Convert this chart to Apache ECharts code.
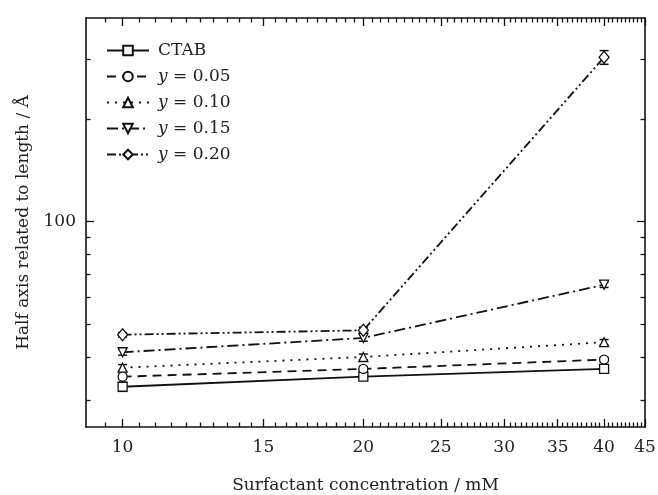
<!DOCTYPE html>
<html><head><meta charset="utf-8">
<script src="https://cdn.jsdelivr.net/npm/echarts@6/dist/echarts.min.js"></script>
<style>html,body{margin:0;padding:0;background:#fff}#c{width:658px;height:495px}</style>
</head><body><div id="c"></div>
<script>
const concentrations = [10, 20, 40];
const seriesNames = ['CTAB', 'y = 0.05', 'y = 0.10', 'y = 0.15', 'y = 0.20'];
const valCTAB = [32.8, 35.1, 37.0];
const val005 = [35.1, 37.0, 39.4];
const val010 = [37.3, 40.1, 44.3];
const val015 = [41.4, 45.6, 65.3];
const val020 = [46.6, 48.0, 303];
const errCTAB = [1.0, 0.6, 0.5];
const err005 = [0.6, 0.6, 0.6];
const err010 = [0.8, 0.8, 0.8];
const err015 = [0.8, 1.0, 1.2];
const err020 = [0.7, 1.0, 14];
const xMajorTicks = [10, 15, 20, 25, 30, 35, 40, 45];
const xMinorTicks = [9.5,10.5,11,11.5,12,12.5,13,13.5,14,14.5,15.5,16,16.5,17,17.5,18,18.5,19,19.5,20.5,21,21.5,22,22.5,23,23.5,24,24.5,25.5,26,26.5,27,27.5,28,28.5,29,29.5,30.5,31,31.5,32,32.5,33,33.5,34,34.5,35.5,36,36.5,37,37.5,38,38.5,39,39.5,40.5,41,41.5,42,42.5,43,43.5,44,44.5];
const yMajorTicks = [100];
const yMinorTicks = [30, 40, 50, 60, 70, 80, 90, 200, 300];
const xRange = [9, 45];
const yRange = [25, 395];

const FONT = 'DejaVu Serif';
const FS = 17;
const values = [valCTAB, val005, val010, val015, val020];
const errors = [errCTAB, err005, err010, err015, err020];
const symbols = ['rect', 'circle', 'triangle', 'triangle', 'diamond'];
const rotations = [0, 0, 0, 180, 0];
const dashes = ['solid', [9, 6], [2, 6], [11, 4, 2, 4], [9, 3, 2, 3, 2, 3]];

const chart = echarts.init(document.getElementById('c'), null, {renderer: 'canvas'});

function xAx(pos, ticks, len, showLabel, showLine) {
  return {
    type: 'log', min: xRange[0], max: xRange[1], position: pos,
    axisLine: {show: showLine, onZero: false, lineStyle: {color: '#111', width: 1.6}},
    axisTick: {show: true, inside: true, length: len, customValues: ticks, lineStyle: {color: '#111', width: 1.3}},
    axisLabel: {show: showLabel, customValues: xMajorTicks, formatter: v => String(Math.round(v)), color: '#222', fontFamily: FONT, fontSize: FS, margin: 12},
    minorTick: {show: false}, splitLine: {show: false}
  };
}
function yAx(pos, ticks, len, showLabel, showLine) {
  return {
    type: 'log', min: yRange[0], max: yRange[1], position: pos,
    axisLine: {show: showLine, onZero: false, lineStyle: {color: '#111', width: 1.6}},
    axisTick: {show: true, inside: true, length: len, customValues: ticks, lineStyle: {color: '#111', width: 1.3}},
    axisLabel: {show: showLabel, customValues: yMajorTicks, formatter: v => String(Math.round(v)), color: '#222', fontFamily: FONT, fontSize: FS, margin: 10},
    minorTick: {show: false}, splitLine: {show: false}
  };
}

const xAxes = [
  Object.assign(xAx('bottom', xMajorTicks, 8, true, true), {name: 'Surfactant concentration / mM', nameLocation: 'middle', nameGap: 50, nameTextStyle: {fontFamily: FONT, fontSize: FS, color: '#222'}}),
  xAx('bottom', xMinorTicks, 4.5, false, false),
  xAx('top', xMajorTicks, 8, false, true),
  xAx('top', xMinorTicks, 4.5, false, false)
];
const yAxes = [
  Object.assign(yAx('left', yMajorTicks, 8, true, true), {name: 'Half axis related to length / Å', nameLocation: 'middle', nameGap: 54, nameTextStyle: {fontFamily: FONT, fontSize: FS, color: '#222'}}),
  yAx('left', yMinorTicks, 4.5, false, false),
  yAx('right', yMajorTicks, 8, false, true),
  yAx('right', yMinorTicks, 4.5, false, false)
];

const series = [];
seriesNames.forEach((name, i) => {
  series.push({
    name: name, type: 'line', xAxisIndex: 0, yAxisIndex: 0,
    data: concentrations.map((c, j) => [c, values[i][j]]),
    symbol: symbols[i], symbolRotate: rotations[i], symbolSize: i === 4 ? [10, 12] : 9,
    showAllSymbol: true, z: 3,
    lineStyle: {color: '#111', width: 1.8, type: dashes[i]},
    itemStyle: {color: '#fff', borderColor: '#111', borderWidth: 1.3},
    emphasis: {disabled: true}, animation: false
  });
  series.push({
    type: 'custom', xAxisIndex: 0, yAxisIndex: 0, z: 2, silent: true, animation: false,
    data: concentrations.map((c, j) => [c, values[i][j] - errors[i][j], values[i][j] + errors[i][j]]),
    renderItem: function (params, api) {
      const lo = api.coord([api.value(0), api.value(1)]);
      const hi = api.coord([api.value(0), api.value(2)]);
      const w = 4.5;
      const st = {stroke: '#111', lineWidth: 1.5};
      return {type: 'group', children: [
        {type: 'line', shape: {x1: lo[0], y1: lo[1], x2: hi[0], y2: hi[1]}, style: st},
        {type: 'line', shape: {x1: lo[0] - w, y1: lo[1], x2: lo[0] + w, y2: lo[1]}, style: st},
        {type: 'line', shape: {x1: hi[0] - w, y1: hi[1], x2: hi[0] + w, y2: hi[1]}, style: st}
      ]};
    }
  });
});

chart.setOption({
  animation: false,
  backgroundColor: '#fff',
  grid: {left: 86, right: 13, top: 18, bottom: 68, containLabel: false, outerBoundsMode: 'none'},
  xAxis: xAxes,
  yAxis: yAxes,
  legend: {
    orient: 'vertical', left: 101, top: 37, itemWidth: 42, itemHeight: 12, itemGap: 9,
    data: seriesNames,
    formatter: function (n) { return n === 'CTAB' ? '{n|CTAB}' : '{i|y}{n|' + n.slice(1) + '}'; },
    textStyle: {fontFamily: FONT, fontSize: FS, color: '#222', padding: [0, 0, 0, 4],
      rich: {i: {fontStyle: 'italic', fontFamily: FONT, fontSize: FS, color: '#222'}, n: {fontFamily: FONT, fontSize: FS, color: '#222'}}},
    selectedMode: false
  },
  series: series
});
</script></body></html>
